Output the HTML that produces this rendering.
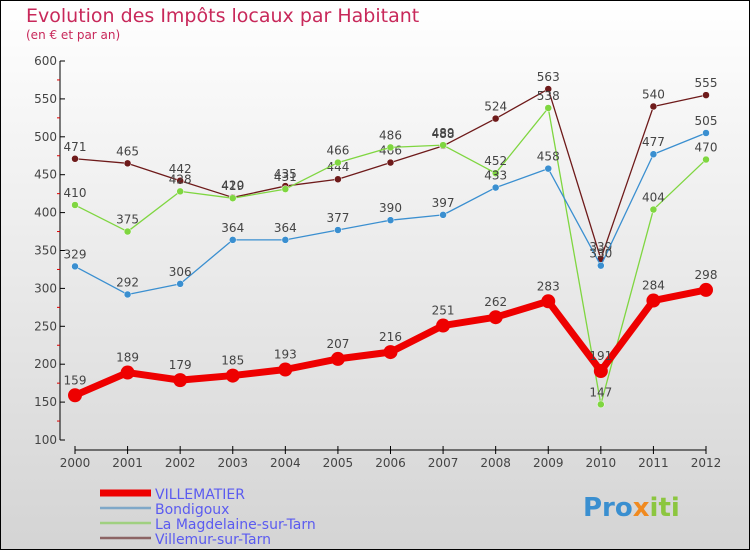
<!DOCTYPE html>
<html><head><meta charset="utf-8"><style>
body{margin:0}
svg{display:block;font-family:"DejaVu Sans","Liberation Sans",sans-serif}
</style></head><body>
<svg width="750" height="550" xmlns="http://www.w3.org/2000/svg">
<defs><linearGradient id="bg" x1="0" y1="0" x2="0" y2="1"><stop offset="0" stop-color="#ffffff"/><stop offset="1" stop-color="#d4d4d4"/></linearGradient></defs>
<rect x="0.5" y="0.5" width="749" height="549" fill="url(#bg)" stroke="#000"/>
<text x="26" y="22" font-size="19" fill="#c8285a">Evolution des Impôts locaux par Habitant</text>
<text x="26" y="39" font-size="12" fill="#c8285a">(en € et par an)</text>
<g id="axes"></g>
<g id="series"></g>
<g id="legend"></g>
<text x="583" y="516" font-size="26" font-weight="bold" fill="#3a8fd0">Pro<tspan fill="#f08a20">x</tspan><tspan fill="#8cc63f">iti</tspan></text>
</svg>
<script>
const years=["2000","2001","2002","2003","2004","2005","2006","2007","2008","2009","2010","2011","2012"];
const yTicks=[100,150,200,250,300,350,400,450,500,550,600];
const villematier=[159,189,179,185,193,207,216,251,262,283,191,284,298];
const bondigoux=[329,292,306,364,364,377,390,397,433,458,330,477,505];
const magdelaine=[410,375,428,419,431,466,486,489,452,538,147,404,470];
const villemur=[471,465,442,420,435,444,466,488,524,563,339,540,555];
const NS="http://www.w3.org/2000/svg";
const x=i=>75+i*(706-75)/12;
const y=v=>440-(v-100)*(379/500);
function mk(tag,attrs,parent){const e=document.createElementNS(NS,tag);for(const k in attrs)e.setAttribute(k,attrs[k]);parent.appendChild(e);return e;}
const ax=document.getElementById('axes');
let yl=mk('line',{x1:60,y1:y(600),x2:60,y2:y(100),stroke:'#000'},ax);


yTicks.forEach((t,i)=>{
 mk('line',{x1:60,y1:y(t),x2:65,y2:y(t),stroke:'#000'},ax);
 if(i<yTicks.length-1) mk('line',{x1:57,y1:y(t+25),x2:60,y2:y(t+25),stroke:'#d00'},ax);
 const tx=mk('text',{x:57,y:y(t)+4,'font-size':12,'text-anchor':'end',fill:'#444'},ax);
 tx.textContent=t;
 
 
});
let xl=mk('line',{x1:x(0),y1:450,x2:x(12),y2:450,stroke:'#000'},ax);


years.forEach((yr,i)=>{
 mk('line',{x1:x(i),y1:446,x2:x(i),y2:454,stroke:'#000'},ax);
 const tx=mk('text',{x:x(i),y:467,'font-size':12,'text-anchor':'middle',fill:'#444'},ax);
 tx.textContent=yr;
 
 
});
const sg=document.getElementById('series');
const series=[
 {d:villemur,c:'#6e1a1a',w:1.3,r:3.5,n:'villemur'},
 {d:magdelaine,c:'#7fd640',w:1.3,r:3.5,n:'magdelaine'},
 {d:bondigoux,c:'#3a8fd0',w:1.3,r:3.5,n:'bondigoux'},
 {d:villematier,c:'#ee0000',w:7,r:7,n:'villematier'}];
series.forEach(s=>{
 const g=mk('g',{},sg);
 
 
 const p=mk('polyline',{points:s.d.map((v,i)=>x(i)+','+y(v)).join(' '),fill:'none',stroke:s.c,'stroke-width':s.w,'stroke-linejoin':'round'},g);
 
 
 s.d.forEach((v,i)=>{
  const c=mk('circle',{cx:x(i),cy:y(v),r:s.r,fill:s.c,stroke:s.r<5?'#fff':'none','stroke-width':0.5},g);
  
  
  const t=mk('text',{x:x(i),y:y(v)-(s.r<5?8:11),'font-size':12,'text-anchor':'middle',fill:'#444'},g);
  t.textContent=v;
  
  
 });
});
const lg=document.getElementById('legend');
const leg=[['VILLEMATIER','#ee0000',7],['Bondigoux','#7fa8c8',2.5],['La Magdelaine-sur-Tarn','#a0d080',2.5],['Villemur-sur-Tarn','#8c6464',2.5]];
leg.forEach((l,i)=>{
 const yy=493+i*15;
 const ln=mk('line',{x1:100,y1:yy,x2:151,y2:yy,stroke:l[1],'stroke-width':l[2]},lg);
 
 
 const t=mk('text',{x:155,y:yy+6,'font-size':14,fill:'#5b5bf0'},lg);
 t.textContent=l[0];
 
 
});
</script>
</body></html>
